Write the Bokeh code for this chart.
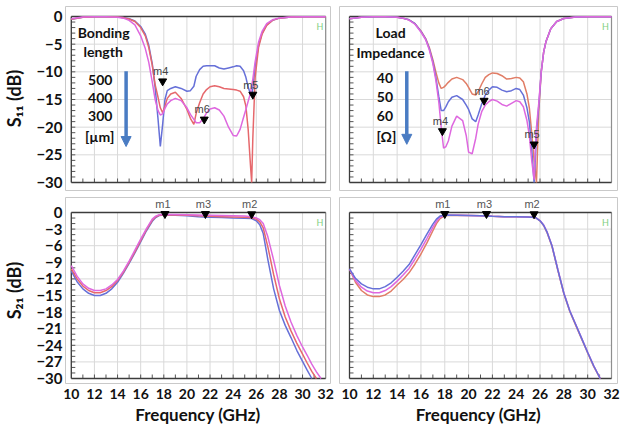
import numpy as np
from bokeh.plotting import figure
from bokeh.layouts import column, row
from bokeh.models import Range1d, FixedTicker, Arrow, NormalHead
from bokeh.core.properties import value
from bokeh.embed import file_html
from bokeh.resources import INLINE

nan = float("nan")

# ---------------- axes / ticks ----------------
FREQ_TICKS = [10, 12, 14, 16, 18, 20, 22, 24, 26, 28, 30, 32]
S11_TICKS = [0, -5, -10, -15, -20, -25, -30]
S21_TICKS = [0, -3, -6, -9, -12, -15, -18, -21, -24, -27, -30]

# ---------------- S11 vs bonding length (top-left) ----------------
F_TL = [10, 11, 12, 13, 14, 14.5, 15, 15.5, 16, 16.4, 16.7, 17.0, 17.25, 17.5, 17.7, 17.9,
        18.1, 18.3, 18.6, 19.0, 19.5, 20.0, 20.3, 20.6, 20.8, 21.1, 21.4, 21.7, 22.0, 22.4,
        22.8, 23.2, 23.6, 24.0, 24.3, 24.6, 24.9, 25.1, 25.3, 25.5, 25.6, 25.7, 25.9, 26.2,
        26.5, 26.9, 27.4, 28, 29, 30, 31, 32]
S11_L500 = [-0.5, -0.15, -0.05, -0.05, -0.1, -0.2, -0.4, -0.8, -1.8, -3.2, -5.2, -8.5, -12.8,
            -18.5, -23.5, -19.5, -15.0, -13.4, -13.0, -12.7, -13.0, -13.5, -13.4, -12.6, -10.8,
            -9.6, -9.0, -8.9, -8.9, -8.9, -9.3, -9.5, -9.3, -9.1, -8.9, -9.0, -9.8, -11.0, -12.8,
            -14.0, -14.2, -13.0, -9.0, -5.2, -3.0, -1.5, -0.7, -0.3, -0.1, -0.05, -0.05, -0.05]
S11_L400 = [-0.5, -0.15, -0.05, -0.05, -0.1, -0.2, -0.45, -0.9, -2.0, -3.5, -5.6, -8.8, -12.3,
            -14.6, -16.5, -17.4, -16.2, -14.8, -14.0, -13.7, -14.8, -16.8, -18.4, -19.5, -17.5,
            -15.6, -14.0, -13.2, -12.7, -12.5, -12.7, -13.0, -13.1, -13.2, -13.3, -13.5, -14.5,
            -16.2, -20.5, -27.0, -30.0, -22.0, -11.0, -5.5, -3.2, -1.6, -0.7, -0.3, -0.1, -0.05,
            -0.05, -0.05]
S11_L300 = [-0.4, -0.1, -0.05, -0.05, -0.15, -0.3, -0.7, -1.5, -3.5, -5.8, -8.3, -11.8, -15.0,
            -17.0, -17.8, -17.6, -16.6, -15.8, -15.2, -14.8, -15.2, -16.5, -17.7, -18.6, -19.2,
            -19.2, -18.5, -17.4, -16.7, -16.5, -16.9, -18.0, -20.0, -21.5, -21.6, -20.4, -18.2,
            -16.8, -15.3, -13.8, -12.6, -11.3, -8.2, -4.6, -2.7, -1.3, -0.6, -0.25, -0.1, -0.05,
            -0.05, -0.05]
MK_TL_NAME = ["m4", "m6", "m5"]
MK_TL_F = [17.9, 21.5, 25.7]
MK_TL_DB = [-11.7, -18.6, -14.1]
NOTE_TL = ["Bonding", "length", "500", "400", "300", "[\u00b5m]"]
NOTE_TL_F = [12.8, 12.75, 12.5, 12.5, 12.5, 12.45]
NOTE_TL_DB = [-2.95, -6.3, -11.4, -14.7, -18.0, -21.6]
ARROW_TL = (14.74, -9.9, -23.5)

# ---------------- S11 vs load impedance (top-right) ----------------
F_TR = [10, 11, 12, 13, 14, 14.5, 15, 15.5, 16, 16.4, 16.7, 17.0, 17.25, 17.5, 17.7, 17.9,
        18.1, 18.3, 18.6, 19.0, 19.5, 19.8, 20.0, 20.3, 20.6, 20.8, 21.1, 21.4, 21.7, 22.0,
        22.4, 22.8, 23.2, 23.6, 24.0, 24.3, 24.6, 24.9, 25.1, 25.3, 25.5, 25.6, 25.7, 25.9,
        26.1, 26.3, 26.5, 26.9, 27.4, 28, 29, 30, 31, 32]
S11_Z40 = [-0.4, -0.15, -0.05, -0.05, -0.15, -0.3, -0.6, -1.3, -2.6, -4.0, -5.6, -7.8, -10.0,
           -12.0, -13.0, -12.8, -12.4, -11.9, -11.3, -11.0, -11.4, -12.1, -12.8, -14.0, -14.2,
           -13.6, -12.2, -11.0, -10.5, -10.2, -10.3, -10.7, -11.3, -11.2, -11.0, -11.1, -11.8,
           -14.0, -16.5, -21.0, -26.0, -28.0, -30.0, -17.0, -10.0, -6.5, -4.5, -2.2, -0.9,
           -0.35, -0.1, -0.05, -0.05, -0.05]
S11_Z50 = [-0.4, -0.15, -0.05, -0.05, -0.15, -0.3, -0.6, -1.3, -2.7, -4.1, -5.8, -8.2, -11.0,
           -14.5, -17.0, -17.0, -16.3, -15.4, -14.6, -14.3, -15.0, -16.0, -16.8, -18.5, -19.0,
           -17.8, -15.8, -14.2, -13.3, -12.7, -12.8, -13.3, -13.6, -13.4, -13.0, -13.2, -14.2,
           -16.5, -19.0, -24.0, -30.0, -26.0, -21.0, -16.0, -10.0, -6.5, -4.5, -2.2, -0.9,
           -0.35, -0.1, -0.05, -0.05, -0.05]
S11_Z60 = [-0.4, -0.15, -0.05, -0.05, -0.15, -0.3, -0.65, -1.4, -2.8, -4.2, -6.0, -8.5, -11.5,
           -15.5, -20.0, -23.8, -23.5, -22.5, -19.8, -18.0, -18.8, -21.5, -24.5, -24.8, -22.0,
           -19.5, -17.2, -16.0, -15.4, -15.0, -15.3, -15.9, -16.2, -15.7, -15.2, -15.4, -16.3,
           -18.8, -21.5, -26.0, -29.5, -24.0, -20.0, -15.5, -10.0, -6.5, -4.5, -2.2, -0.9,
           -0.35, -0.1, -0.05, -0.05, -0.05]
MK_TR_NAME = ["m4", "m6", "m5"]
MK_TR_F = [17.8, 21.3, 25.5]
MK_TR_DB = [-20.7, -15.2, -23.1]
NOTE_TR = ["Load", "Impedance", "40", "50", "60", "[\u03a9]"]
NOTE_TR_F = [13.45, 13.45, 12.98, 12.98, 12.98, 13.1]
NOTE_TR_DB = [-2.9, -6.5, -11.2, -14.5, -17.9, -21.6]
ARROW_TR = (14.81, -9.9, -23.1)

# ---------------- S21 vs bonding length (bottom-left) ----------------
F_BL = [10, 10.5, 11, 11.5, 12, 12.5, 13, 13.5, 14, 14.5, 15, 15.5, 16, 16.5, 17, 17.3, 17.6,
        18, 19, 20, 21, 21.5, 22, 23, 24, 25, 25.6, 26, 26.3, 26.6, 27, 27.5, 28, 28.5, 29,
        29.5, 30, 30.4, 30.8, 31.2, 31.6]
S21_L500 = [-10.6, -12.5, -13.8, -14.6, -15.0, -15.0, -14.6, -13.8, -12.6, -11.0, -9.2, -7.3,
            -5.3, -3.3, -1.6, -0.9, -0.55, -0.45, -0.5, -0.6, -0.75, -0.8, -0.85, -0.9, -1.0,
            -1.05, -1.1, -1.5, -2.2, -3.8, -8.5, -13.8, -17.7, -20.4, -22.6, -24.9, -26.9,
            -28.5, -30.0, nan, nan]
S21_L400 = [-10.2, -12.0, -13.3, -14.1, -14.5, -14.5, -14.1, -13.4, -12.3, -10.8, -9.0, -7.1,
            -5.1, -3.1, -1.4, -0.8, -0.5, -0.4, -0.45, -0.5, -0.6, -0.65, -0.7, -0.75, -0.8,
            -0.85, -0.95, -1.2, -1.7, -2.8, -6.2, -11.2, -15.6, -18.9, -21.4, -23.6, -25.6,
            -27.2, -28.7, -30.0, nan]
S21_L300 = [-9.6, -11.5, -12.9, -13.7, -14.1, -14.1, -13.8, -13.1, -12.1, -10.6, -8.8, -6.8,
            -4.8, -2.9, -1.2, -0.65, -0.4, -0.35, -0.35, -0.4, -0.45, -0.5, -0.5, -0.55, -0.6,
            -0.65, -0.75, -1.0, -1.3, -2.0, -4.4, -8.6, -13.2, -16.9, -19.8, -22.2, -24.3,
            -25.8, -27.4, -28.8, -30.0]
MK_B_NAME = ["m1", "m3", "m2"]
MK_BL_F = [18.1, 21.6, 25.6]
MK_BL_DB = [-0.25, -0.25, -0.3]

# ---------------- S21 vs load impedance (bottom-right) ----------------
F_BR = [10, 10.5, 11, 11.5, 12, 12.5, 13, 13.5, 14, 14.5, 15, 15.5, 16, 16.5, 17, 17.3, 17.6,
        18, 19, 20, 21, 21.5, 22, 23, 24, 25, 25.6, 26, 26.3, 26.6, 27, 27.5, 28, 28.5, 29,
        29.5, 30, 30.5, 31.05]
S21_Z40 = [-10.2, -12.6, -14.1, -14.9, -15.2, -15.2, -14.9, -14.2, -13.1, -12.1, -10.9, -9.3,
           -7.5, -5.5, -3.3, -2.0, -1.1, -0.55, -0.5, -0.55, -0.6, -0.65, -0.7, -0.75, -0.75,
           -0.8, -0.9, -1.5, -2.35, -3.7, -6.1, -10.5, -14.7, -17.9, -20.4, -22.9, -25.4,
           -27.8, -30.0]
S21_Z50 = [-10.2, -11.9, -12.9, -13.5, -13.8, -13.8, -13.4, -12.7, -11.7, -10.6, -9.4, -7.6,
           -5.8, -3.9, -2.1, -1.2, -0.65, -0.45, -0.5, -0.55, -0.6, -0.65, -0.7, -0.75, -0.75,
           -0.8, -0.9, -1.5, -2.3, -3.6, -6.0, -10.4, -14.6, -17.8, -20.3, -22.8, -25.3,
           -27.7, -30.0]
S21_Z60 = [-10.2, -12.3, -13.5, -14.2, -14.5, -14.5, -14.1, -13.4, -12.4, -11.3, -10.1, -8.4,
           -6.6, -4.7, -2.7, -1.6, -0.85, -0.5, -0.5, -0.55, -0.6, -0.65, -0.7, -0.75, -0.75,
           -0.8, -0.9, -1.45, -2.25, -3.55, -5.95, -10.35, -14.55, -17.75, -20.25, -22.75,
           -25.25, -27.65, -30.0]
MK_BR_F = [18.0, 21.5, 25.5]
MK_BR_DB = [-0.25, -0.25, -0.3]

H_POS = (31.5, -1.8)

BLUE = "#6670d8"
RED = "#e6686c"
MAGENTA = "#de68df"
ORANGE = "#e17d66"
ARROW_C = "#4a7cc3"
FONT = "Lato"


def make_panel(width, height, borders, pads, yticks, ylabel=None, xlabel=None):
    bl, br, bt, bb = borders
    pl, pr, pt, pb = pads
    fw = width - bl - br
    fh = height - bt - bb
    x0, x1 = FREQ_TICKS[0], FREQ_TICKS[-1]
    y0, y1 = min(yticks), max(yticks)
    kx = (fw - pl - pr) / (x1 - x0)
    ky = (fh - pt - pb) / (y1 - y0)
    p = figure(width=width, height=height,
               x_range=Range1d(x0 - pl / kx, x1 + pr / kx),
               y_range=Range1d(y0 - pb / ky, y1 + pt / ky),
               output_backend="svg", toolbar_location=None,
               min_border_left=bl, min_border_right=br,
               min_border_top=bt, min_border_bottom=bb)
    p.outline_line_color = "#c9c9c9"
    p.outline_line_width = 1
    p.xgrid.visible = False
    p.ygrid.visible = False
    p.background_fill_color = "white"
    p.border_fill_color = "white"

    nx, ny = len(FREQ_TICKS), len(yticks)
    p.segment(x0=FREQ_TICKS, y0=[y0] * nx, x1=FREQ_TICKS, y1=[y1] * nx,
              line_color="#d9d9d9", line_width=1)
    p.segment(x0=[x0] * ny, y0=yticks, x1=[x1] * ny, y1=yticks,
              line_color="#d9d9d9", line_width=1)
    # small inward ticks
    p.ray(x=x0, y=list(np.arange(y0 + 1, y1, 1.0)), length=4, angle=0,
          length_units="screen", line_color="#555555", line_width=1)
    p.ray(x=list(np.arange(x0 + 1, x1, 1.0)), y=y0, length=4, angle=np.pi / 2,
          length_units="screen", line_color="#555555", line_width=1)
    # plot-area border
    p.segment(x0=[x1], y0=[y0], x1=[x1], y1=[y1], line_color="#8f8f8f", line_width=1.2)
    p.segment(x0=[x0, x0, x0], y0=[y0, y0, y1], x1=[x0, x1, x1], y1=[y1, y0, y1],
              line_color="#3c3c3c", line_width=1.3)

    if ylabel:
        ax = p.yaxis[0]
        ax.ticker = FixedTicker(ticks=yticks, minor_ticks=[])
        ax.axis_line_color = None
        ax.major_tick_line_color = None
        ax.minor_tick_line_color = None
        ax.major_tick_out = 0
        ax.major_tick_in = 0
        ax.major_label_standoff = 3
        ax.major_label_text_font = FONT
        ax.major_label_text_font_style = "bold"
        ax.major_label_text_font_size = "15px"
        ax.major_label_text_color = "#111111"
        ax.axis_label = ylabel
        ax.axis_label_standoff = 8
        ax.axis_label_text_font = FONT
        ax.axis_label_text_font_style = "bold"
        ax.axis_label_text_font_size = "18px"
        ax.axis_label_text_color = "#111111"
    else:
        p.yaxis.visible = False

    if xlabel:
        ax = p.xaxis[0]
        ax.ticker = FixedTicker(ticks=FREQ_TICKS, minor_ticks=[])
        ax.axis_line_color = None
        ax.major_tick_line_color = None
        ax.minor_tick_line_color = None
        ax.major_tick_out = 0
        ax.major_tick_in = 0
        ax.major_label_standoff = 5
        ax.major_label_text_font = FONT
        ax.major_label_text_font_style = "bold"
        ax.major_label_text_font_size = "14px"
        ax.major_label_text_color = "#111111"
        ax.axis_label = xlabel
        ax.axis_label_standoff = 2
        ax.axis_label_text_font = FONT
        ax.axis_label_text_font_style = "bold"
        ax.axis_label_text_font_size = "17px"
        ax.axis_label_text_color = "#111111"
    else:
        p.xaxis.visible = False

    p.text(x=[H_POS[0]], y=[H_POS[1]], text=["H"], text_font=value(FONT),
           text_font_size="9px", text_color="#7fd07f", text_align="center",
           text_baseline="middle")
    return p


def add_traces(p, f, series):
    for vals, col in series:
        p.line(f, vals, line_color=col, line_width=1.5)


def add_markers(p, names, mf, mdb, color):
    p.scatter(mf, mdb, marker="inverted_triangle", size=8, fill_color="black",
              line_color="black")
    p.text(x=mf, y=mdb, text=names, x_offset=-2, y_offset=-10, text_align="center",
           text_baseline="middle", text_font=value("Liberation Sans"),
           text_font_size="11px", text_color=color)


def add_notes(p, txt, nf, ndb, arrow):
    p.text(x=nf, y=ndb, text=txt, text_font=value(FONT), text_font_style="bold",
           text_font_size="14px", text_color="#111111", text_align="center",
           text_baseline="middle")
    ax, ya, yb = arrow
    p.add_layout(Arrow(end=NormalHead(size=10, fill_color=ARROW_C, line_color=ARROW_C),
                       x_start=ax, y_start=ya, x_end=ax, y_end=yb,
                       line_color=ARROW_C, line_width=3.5))


LEFT_B = (56, 5)
RIGHT_B = (4, 11)
TOP_B = (6, 3)
BOT_B = (4, 44)
TOP_H = 193
BOT_H = 234

p_tl = make_panel(335, TOP_H, LEFT_B + TOP_B, (6, 5, 10, 8), S11_TICKS,
                  ylabel="S\u2081\u2081 (dB)")
add_traces(p_tl, F_TL, [(S11_L500, BLUE), (S11_L400, RED), (S11_L300, MAGENTA)])
add_notes(p_tl, NOTE_TL, NOTE_TL_F, NOTE_TL_DB, ARROW_TL)
add_markers(p_tl, MK_TL_NAME, MK_TL_F, MK_TL_DB, "#444444")

p_tr = make_panel(293, TOP_H, RIGHT_B + TOP_B, (10, 6, 10, 8), S11_TICKS)
add_traces(p_tr, F_TR, [(S11_Z40, ORANGE), (S11_Z50, BLUE), (S11_Z60, MAGENTA)])
add_notes(p_tr, NOTE_TR, NOTE_TR_F, NOTE_TR_DB, ARROW_TR)
add_markers(p_tr, MK_TR_NAME, MK_TR_F, MK_TR_DB, "#444444")

p_bl = make_panel(335, BOT_H, LEFT_B + BOT_B, (6, 5, 15, 5), S21_TICKS,
                  ylabel="S\u2082\u2081 (dB)", xlabel="Frequency (GHz)")
add_traces(p_bl, F_BL, [(S21_L500, BLUE), (S21_L400, RED), (S21_L300, MAGENTA)])
add_markers(p_bl, MK_B_NAME, MK_BL_F, MK_BL_DB, "#555555")

p_br = make_panel(293, BOT_H, RIGHT_B + BOT_B, (10, 6, 15, 5), S21_TICKS,
                  xlabel="Frequency (GHz)")
add_traces(p_br, F_BR, [(S21_Z40, ORANGE), (S21_Z60, MAGENTA), (S21_Z50, BLUE)])
add_markers(p_br, MK_B_NAME, MK_BR_F, MK_BR_DB, "#555555")

layout = column(row(p_tl, p_tr), row(p_bl, p_br))

open("out.html", "w").write(file_html(layout, INLINE))
